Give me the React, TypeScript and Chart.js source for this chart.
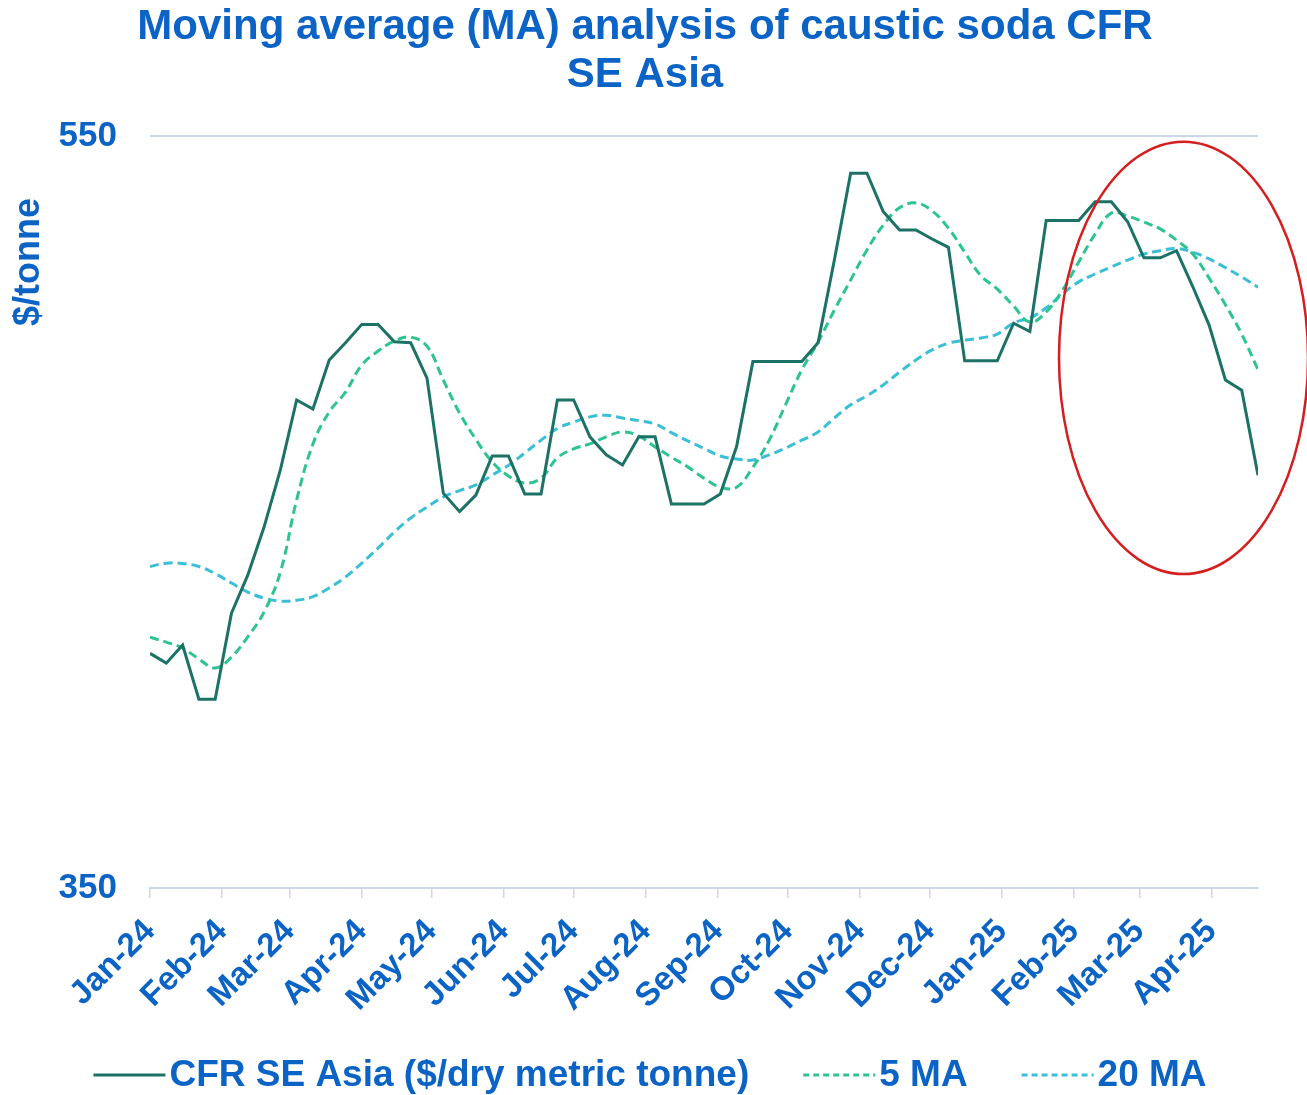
import React, { useEffect, useRef } from 'react';
import { Chart, registerables } from 'chart.js';

Chart.register(...registerables);

// ---------- data ----------
const weekDates = [
  '2024-01-01', '2024-01-08', '2024-01-15', '2024-01-22', '2024-01-29',
  '2024-02-05', '2024-02-12', '2024-02-19', '2024-02-26',
  '2024-03-04', '2024-03-11', '2024-03-18', '2024-03-25',
  '2024-04-01', '2024-04-08', '2024-04-15', '2024-04-22', '2024-04-29',
  '2024-05-06', '2024-05-13', '2024-05-20', '2024-05-27',
  '2024-06-03', '2024-06-10', '2024-06-17', '2024-06-24',
  '2024-07-01', '2024-07-08', '2024-07-15', '2024-07-22', '2024-07-29',
  '2024-08-05', '2024-08-12', '2024-08-19', '2024-08-26',
  '2024-09-02', '2024-09-09', '2024-09-16', '2024-09-23', '2024-09-30',
  '2024-10-07', '2024-10-14', '2024-10-21', '2024-10-28',
  '2024-11-04', '2024-11-11', '2024-11-18', '2024-11-25',
  '2024-12-02', '2024-12-09', '2024-12-16', '2024-12-23', '2024-12-30',
  '2025-01-06', '2025-01-13', '2025-01-20', '2025-01-27',
  '2025-02-03', '2025-02-10', '2025-02-17', '2025-02-24',
  '2025-03-03', '2025-03-10', '2025-03-17', '2025-03-24', '2025-03-31',
  '2025-04-07', '2025-04-14', '2025-04-21',
];

const cfrSeAsia = [
  412.4, 409.8, 414.6, 400.2, 400.2, 423.1, 433.2, 446, 461.2, 479.8,
  477.4, 490.4, 495, 499.9, 499.9, 495.3, 495, 485.6, 455, 450.1,
  454.5, 464.9, 464.9, 454.8, 454.8, 479.8, 479.8, 470, 465.2, 462.5,
  470, 470, 452.1, 452.1, 452.1, 454.8, 467.4, 490, 490, 490,
  490, 495, 517, 540.1, 540.1, 529.9, 525, 525, 522.6, 520.4,
  490.2, 490.2, 490.2, 500.2, 498, 527.5, 527.5, 527.5, 532.5, 532.5,
  527.2, 517.6, 517.6, 519.5, 509.9, 499.7, 485.1, 482.4, 459.8,
];

const ma5 = [
  416.7, 415.4, 413.8, 410.9, 408.5, 411.4, 416.8, 423.4, 434, 453.2,
  468.1, 476.6, 481.9, 489.1, 492.8, 495.5, 496.5, 494.1, 485.1, 476.3,
  469.3, 463.3, 459.6, 457.7, 459, 464.4, 466.8, 468.1, 470, 471.3,
  470.2, 467.3, 464.6, 462, 459, 456.6, 456.6, 461.9, 469.1, 478.5,
  487.8, 495.2, 503.7, 511.7, 519.7, 526.3, 530.9, 532.2, 530.1, 525.5,
  519.1, 512.8, 509.3, 504.8, 500.5, 503.2, 509, 516.5, 523.9, 529.5,
  528.7, 527.1, 525.3, 522.3, 518.6, 512.2, 505.1, 497.3, 487.8,
];

const ma20 = [
  435.5, 436.4, 436.3, 435.5, 433.6, 431.1, 428.7, 427.1, 426.3, 426.5,
  427.5, 429.8, 432.7, 436.4, 440.4, 444.7, 448.4, 451.3, 454, 455.7,
  457.2, 459.8, 462.4, 465.7, 469.1, 472.2, 473.9, 475.3, 475.7, 475,
  474.3, 473.4, 471.1, 468.9, 466.9, 464.9, 464.1, 463.8, 465.2, 467,
  469.1, 471.3, 475, 478.5, 480.9, 483.8, 487.2, 490.4, 493.1, 494.9,
  495.7, 496.3, 497.3, 500.3, 501.6, 504.3, 508, 511.2, 513.3, 515.2,
  517, 518.6, 519.5, 520.1, 519.1, 517.3, 515, 512.5, 509.8,
];

const monthTickDates = [
  '2024-01-01', '2024-02-01', '2024-03-01', '2024-04-01', '2024-05-01', '2024-06-01',
  '2024-07-01', '2024-08-01', '2024-09-01', '2024-10-01', '2024-11-01', '2024-12-01',
  '2025-01-01', '2025-02-01', '2025-03-01', '2025-04-01',
];
const monthTickLabels = [
  'Jan-24', 'Feb-24', 'Mar-24', 'Apr-24', 'May-24', 'Jun-24', 'Jul-24', 'Aug-24',
  'Sep-24', 'Oct-24', 'Nov-24', 'Dec-24', 'Jan-25', 'Feb-25', 'Mar-25', 'Apr-25',
];
const yTickValues = [350, 550];

const seriesNames = ['CFR SE Asia ($/dry metric tonne)', '5 MA', '20 MA'];
const titleLines = ['Moving average (MA) analysis of caustic soda CFR', 'SE Asia'];
const yAxisTitle = '$/tonne';

// highlight ellipse (in data units)
const highlightCenter = { date: '2025-03-20', value: 491 };
const highlightRadius = { days: 53.5, value: 57.5 };

// ---------- styles ----------
const FONT = '"Liberation Sans", Arial, sans-serif';
const BLUE = '#0b63c6';
const SOLID = '#1c7266';
const GREEN = '#2ec492';
const CYAN = '#3bbfd6';
const AXIS = '#cdd8e6';
const RED = '#d61e1e';
const DASH = [9, 5];

const BASE = Date.UTC(2024, 0, 1);
const toDay = (s: string) => {
  const [y, m, d] = s.split('-').map(Number);
  return (Date.UTC(y, m - 1, d) - BASE) / 86400000;
};

const weekDays = weekDates.map(toDay);
const monthTickDays = monthTickDates.map(toDay);
const toPoints = (vals: number[]) => vals.map((v, i) => ({ x: weekDays[i], y: v }));

const decorPlugin = {
  id: 'decor',
  afterDraw(chart: any) {
    const ctx = chart.ctx as CanvasRenderingContext2D;
    ctx.save();
    // title
    ctx.fillStyle = BLUE;
    ctx.textAlign = 'center';
    ctx.textBaseline = 'middle';
    ctx.font = `bold 42px ${FONT}`;
    ctx.fillText(titleLines[0], 645, 27);
    ctx.fillText(titleLines[1], 645, 75);

    // y axis title
    ctx.save();
    ctx.translate(29, 262);
    ctx.rotate(-Math.PI / 2);
    ctx.font = `bold 36px ${FONT}`;
    ctx.fillText(yAxisTitle, 0, 0);
    ctx.restore();

    // legend
    const styles = [
      { color: SOLID, dash: [] as number[] },
      { color: GREEN, dash: [6, 4] },
      { color: CYAN, dash: [6, 4] },
    ];
    ctx.font = `bold 37px ${FONT}`;
    const lineLen = 72;
    const gapAfterLine = 4;
    const itemGap = 54;
    const widths = seriesNames.map((n) => lineLen + gapAfterLine + ctx.measureText(n).width);
    const total = widths.reduce((a, b) => a + b, 0) + itemGap * (seriesNames.length - 1);
    let x = 650 - total / 2;
    const ly = 1075;
    seriesNames.forEach((name, i) => {
      ctx.beginPath();
      ctx.setLineDash(styles[i].dash);
      ctx.strokeStyle = styles[i].color;
      ctx.lineWidth = 3;
      ctx.moveTo(x, ly);
      ctx.lineTo(x + lineLen, ly);
      ctx.stroke();
      ctx.setLineDash([]);
      ctx.fillStyle = BLUE;
      ctx.textAlign = 'left';
      ctx.fillText(name, x + lineLen + gapAfterLine, ly + 1);
      x += widths[i] + itemGap;
    });

    // highlight ellipse
    const xs = chart.scales.x;
    const ys = chart.scales.y;
    const cd = toDay(highlightCenter.date);
    const cx = xs.getPixelForValue(cd);
    const cy = ys.getPixelForValue(highlightCenter.value);
    const rx = xs.getPixelForValue(cd + highlightRadius.days) - cx;
    const ry = ys.getPixelForValue(highlightCenter.value - highlightRadius.value) - cy;
    ctx.beginPath();
    ctx.ellipse(cx, cy, rx, ry, 0, 0, Math.PI * 2);
    ctx.strokeStyle = RED;
    ctx.lineWidth = 2.5;
    ctx.stroke();
    ctx.restore();
  },
};

export default function App() {
  const ref = useRef<HTMLCanvasElement>(null);

  useEffect(() => {
    if (!ref.current) return;
    const chart = new Chart(ref.current, {
      type: 'line',
      data: {
        datasets: [
          {
            label: seriesNames[0],
            data: toPoints(cfrSeAsia),
            borderColor: SOLID,
            borderWidth: 3,
            pointRadius: 0,
            tension: 0,
            fill: false,
            order: 1,
          },
          {
            label: seriesNames[1],
            data: toPoints(ma5),
            borderColor: GREEN,
            borderWidth: 3,
            borderDash: DASH,
            pointRadius: 0,
            tension: 0.4,
            fill: false,
            order: 2,
          },
          {
            label: seriesNames[2],
            data: toPoints(ma20),
            borderColor: CYAN,
            borderWidth: 3,
            borderDash: DASH,
            pointRadius: 0,
            tension: 0.4,
            fill: false,
            order: 3,
          },
        ],
      },
      options: {
        responsive: false,
        animation: false,
        devicePixelRatio: 1,
        layout: { padding: { top: 136, right: 49, left: 0, bottom: 0 } },
        plugins: {
          legend: { display: false },
          title: { display: false },
          tooltip: { enabled: false },
        },
        scales: {
          x: {
            type: 'linear',
            min: 0,
            max: weekDays[weekDays.length - 1],
            afterBuildTicks: (scale: any) => {
              scale.ticks = monthTickDays.map((v) => ({ value: v }));
            },
            afterFit: (scale: any) => {
              scale.height = 207;
            },
            ticks: {
              autoSkip: false,
              minRotation: 45,
              maxRotation: 45,
              padding: 14,
              color: BLUE,
              font: { family: FONT, size: 33, weight: 'bold' },
              callback: (_v: any, i: number) => monthTickLabels[i],
            },
            grid: {
              drawOnChartArea: false,
              drawTicks: true,
              tickLength: 10,
              color: AXIS,
              lineWidth: 1.5,
            },
            border: { display: true, color: AXIS, width: 2 },
          },
          y: {
            type: 'linear',
            min: 350,
            max: 550,
            afterBuildTicks: (scale: any) => {
              scale.ticks = yTickValues.map((v) => ({ value: v }));
            },
            afterFit: (scale: any) => {
              scale.width = 150;
            },
            ticks: {
              padding: 33,
              color: BLUE,
              font: { family: FONT, size: 35, weight: 'bold' },
            },
            grid: {
              drawTicks: false,
              color: (c: any) => (c.tick && c.tick.value === 550 ? AXIS : 'rgba(0,0,0,0)'),
              lineWidth: 2,
            },
            border: { display: false },
          },
        },
      } as any,
      plugins: [decorPlugin],
    });
    return () => chart.destroy();
  }, []);

  return (
    <div style={{ position: 'fixed', left: 0, top: 0, width: 1307, height: 1095, background: '#fff' }}>
      <canvas ref={ref} width={1307} height={1095} style={{ display: 'block', width: 1307, height: 1095 }} />
    </div>
  );
}
